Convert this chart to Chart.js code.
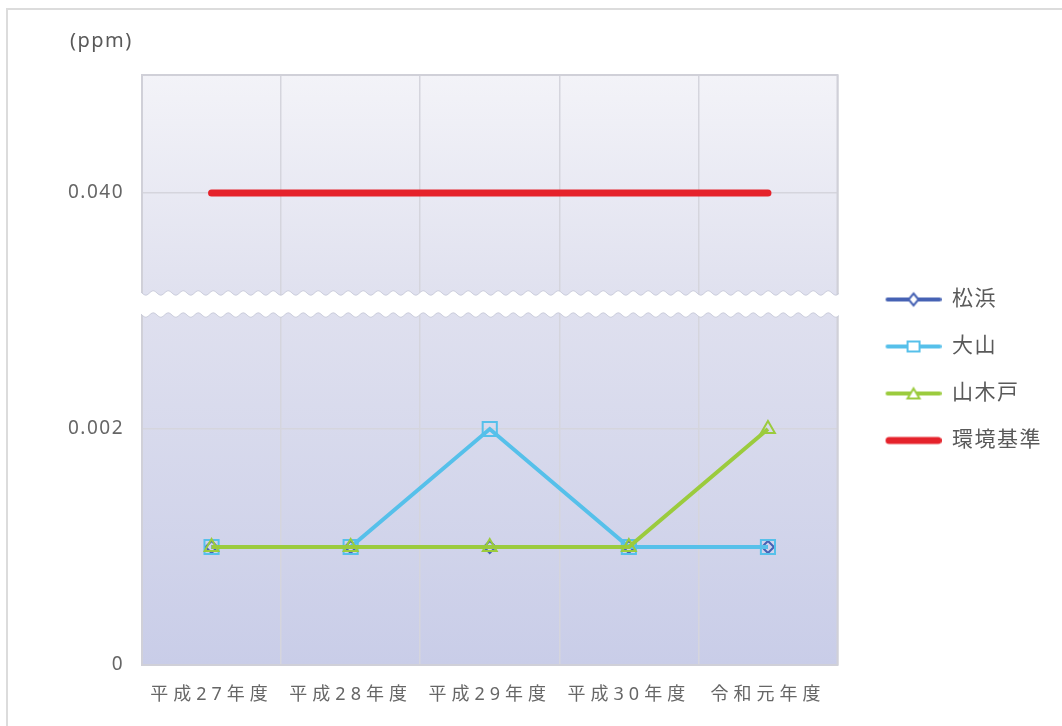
<!DOCTYPE html>
<html lang="ja">
<head>
<meta charset="utf-8">
<title>年平均値の推移</title>
<script src="https://cdn.jsdelivr.net/npm/chart.js@4.4.1/dist/chart.umd.min.js"></script>
<style>
  html, body { margin: 0; padding: 0; background: #fff; }
  #wrap { position: relative; width: 1062px; height: 726px; overflow: hidden; }
  #frame { position: absolute; left: 6px; top: 8px; width: 1100px; height: 800px;
           border-left: 2px solid #dcdcdc; border-top: 2px solid #dcdcdc; }
  #chart { position: absolute; left: 0; top: 0; }
</style>
</head>
<body>
<div id="wrap">
  <div id="frame"></div>
  <canvas id="chart" width="1062" height="726"></canvas>
</div>
<script>
// annual averages (ppm)
const years = ['平成27年度', '平成28年度', '平成29年度', '平成30年度', '令和元年度'];
const matsuhama = [0.001, 0.001, 0.001, 0.001, 0.001];
const oyama = [0.001, 0.001, 0.002, 0.001, 0.001];
const yamakido = [0.001, 0.001, 0.001, 0.001, 0.002];
const standard = [0.04, 0.04, 0.04, 0.04, 0.04];

// broken y axis: low band + high band
const lowerTicks = [0, 0.002];
const upperTicks = [0.040];

const FONT = "'Noto Sans', 'Noto Sans CJK JP', sans-serif";
const GRID = '#d5d5dd';
const TEXT = '#666';

const COLORS = {
  matsuhama: '#4662b4',
  oyama: '#56c0ea',
  yamakido: '#9bcb3d',
  standard: '#e5222b'
};

Chart.defaults.font.family = FONT;
Chart.defaults.color = TEXT;

// small line+marker swatch for the legend
function legendIcon(color, marker, lw) {
  const c = document.createElement('canvas');
  c.width = 78; c.height = 22;
  const g = c.getContext('2d');
  g.strokeStyle = color;
  g.lineWidth = lw;
  g.lineCap = 'round';
  g.beginPath();
  g.moveTo(22 + lw / 2, 11);
  g.lineTo(78 - lw / 2, 11);
  g.stroke();
  g.lineWidth = 2;
  g.fillStyle = '#fff';
  g.beginPath();
  if (marker === 'diamond') {
    g.moveTo(50, 5); g.lineTo(55, 11); g.lineTo(50, 17); g.lineTo(45, 11); g.closePath();
  } else if (marker === 'square') {
    g.rect(44, 6, 12, 10);
  } else if (marker === 'triangle') {
    g.moveTo(50, 6); g.lineTo(56, 16); g.lineTo(44, 16); g.closePath();
  }
  if (marker) { g.fill(); g.stroke(); }
  return c;
}

const icons = [
  legendIcon(COLORS.matsuhama, 'diamond', 4),
  legendIcon(COLORS.oyama, 'square', 4),
  legendIcon(COLORS.yamakido, 'triangle', 4),
  legendIcon(COLORS.standard, null, 7)
];

const fmt = v => (v === 0 ? '0' : Number(v).toFixed(3));

// plot background, frame and the wavy break band
const plotDecor = {
  id: 'plotDecor',
  beforeDraw(chart) {
    const { ctx, chartArea: a } = chart;
    ctx.letterSpacing = '1.5px';
    const grad = ctx.createLinearGradient(0, a.top, 0, a.bottom);
    grad.addColorStop(0, '#f3f3f8');
    grad.addColorStop(0.37, '#e0e1ef');
    grad.addColorStop(1, '#c9cde8');
    ctx.save();
    ctx.fillStyle = grad;
    ctx.fillRect(a.left, a.top, a.right - a.left, a.bottom - a.top);
    ctx.restore();
  },
  beforeDatasetsDraw(chart) {
    const { ctx, chartArea: a } = chart;
    ctx.save();
    ctx.strokeStyle = '#d0d0d8';
    ctx.lineWidth = 2;
    ctx.strokeRect(a.left, a.top, a.right - a.left, a.bottom - a.top);

    const join = chart.scales.yLow.top;
    const top = join - 18, bottom = join + 4;
    const wave = (x, base) => base + 2.2 * Math.sin((x - a.left) / 15 * Math.PI * 2);
    ctx.beginPath();
    for (let x = a.left - 2; x <= a.right + 3; x++) ctx.lineTo(x, wave(x, top));
    for (let x = a.right + 3; x >= a.left - 2; x--) ctx.lineTo(x, wave(x, bottom));
    ctx.closePath();
    ctx.fillStyle = '#fff';
    ctx.fill();
    ctx.strokeStyle = 'rgba(190,192,210,0.7)';
    ctx.lineWidth = 1;
    ctx.beginPath();
    for (let x = a.left - 1; x <= a.right + 2; x++) ctx.lineTo(x, wave(x, top));
    ctx.stroke();
    ctx.beginPath();
    for (let x = a.left - 1; x <= a.right + 2; x++) ctx.lineTo(x, wave(x, bottom));
    ctx.stroke();
    ctx.restore();
  },
  afterDraw(chart) {
    const ctx = chart.ctx;
    ctx.save();
    ctx.font = '20px ' + FONT;
    ctx.fillStyle = '#595959';
    ctx.textAlign = 'left';
    ctx.textBaseline = 'middle';
    ctx.fillText('(ppm)', 70, 41);
    ctx.restore();
  }
};

// wider letter spacing for the year labels
const yearSpacing = {
  id: 'yearSpacing',
  afterLayout(chart) {
    const xs = chart.scales.x;
    if (xs._spaced) return;
    const draw = xs.drawLabels;
    xs.drawLabels = function (area) {
      this.ctx.save();
      this.ctx.letterSpacing = '5px';
      draw.call(this, area);
      this.ctx.restore();
    };
    xs._spaced = true;
  }
};

function series(label, data, color, style, radius, order) {
  return {
    label, data, order,
    yAxisID: 'yLow',
    borderColor: color,
    backgroundColor: color,
    borderWidth: 4,
    pointStyle: style,
    pointRadius: radius,
    pointBorderWidth: 2,
    pointBorderColor: color,
    pointBackgroundColor: 'rgba(0,0,0,0)'
  };
}

const chart = new Chart(document.getElementById('chart'), {
  type: 'line',
  data: {
    labels: years,
    datasets: [
      series('松浜', matsuhama, COLORS.matsuhama, 'rectRot', 6, 3),
      series('大山', oyama, COLORS.oyama, 'rect', 10, 2),
      series('山木戸', yamakido, COLORS.yamakido, 'triangle', 8, 1),
      {
        label: '環境基準', data: standard, order: 0,
        yAxisID: 'yHigh',
        borderColor: COLORS.standard,
        backgroundColor: COLORS.standard,
        borderWidth: 7,
        borderCapStyle: 'round',
        pointRadius: 0
      }
    ]
  },
  options: {
    responsive: false,
    animation: false,
    layout: { padding: { top: 75, right: 16, bottom: 0, left: 0 } },
    plugins: {
      tooltip: { enabled: false },
      legend: {
        position: 'right',
        align: 'center',
        fullSize: false,
        maxWidth: 225,
        labels: {
          usePointStyle: true,
          pointStyleWidth: 78,
          padding: 26,
          color: '#595959',
          font: { size: 21 },
          generateLabels: ch => ch.data.datasets.map((ds, i) => ({
            text: ds.label,
            datasetIndex: i,
            pointStyle: icons[i],
            fillStyle: ds.borderColor,
            strokeStyle: ds.borderColor,
            lineWidth: 0,
            hidden: false,
            fontColor: '#595959'
          }))
        }
      }
    },
    scales: {
      x: {
        type: 'category',
        offset: true,
        grid: { offset: true, color: GRID, lineWidth: 1.5, drawTicks: false },
        border: { display: false },
        ticks: { font: { size: 18 }, color: TEXT, padding: 19, maxRotation: 0 },
        afterFit(s) { s.height = 61; }
      },
      yLow: {
        type: 'linear',
        position: 'left',
        stack: 'y',
        stackWeight: 3,
        min: 0,
        max: 0.003,
        grid: { color: GRID, lineWidth: 1.5, drawTicks: false },
        border: { display: false },
        ticks: { font: { size: 19 }, color: TEXT, padding: 18, callback: fmt },
        afterBuildTicks(s) { s.ticks = lowerTicks.map(v => ({ value: v })); },
        afterFit(s) { s.width = 142; }
      },
      yHigh: {
        type: 'linear',
        position: 'left',
        stack: 'y',
        stackWeight: 2,
        min: 0.03,
        max: 0.05,
        grid: { color: GRID, lineWidth: 1.5, drawTicks: false },
        border: { display: false },
        ticks: { font: { size: 19 }, color: TEXT, padding: 18, callback: fmt },
        afterBuildTicks(s) { s.ticks = upperTicks.map(v => ({ value: v })); },
        afterFit(s) { s.width = 142; }
      }
    }
  },
  plugins: [plotDecor, yearSpacing]
});
chart.draw();
</script>
</body>
</html>
